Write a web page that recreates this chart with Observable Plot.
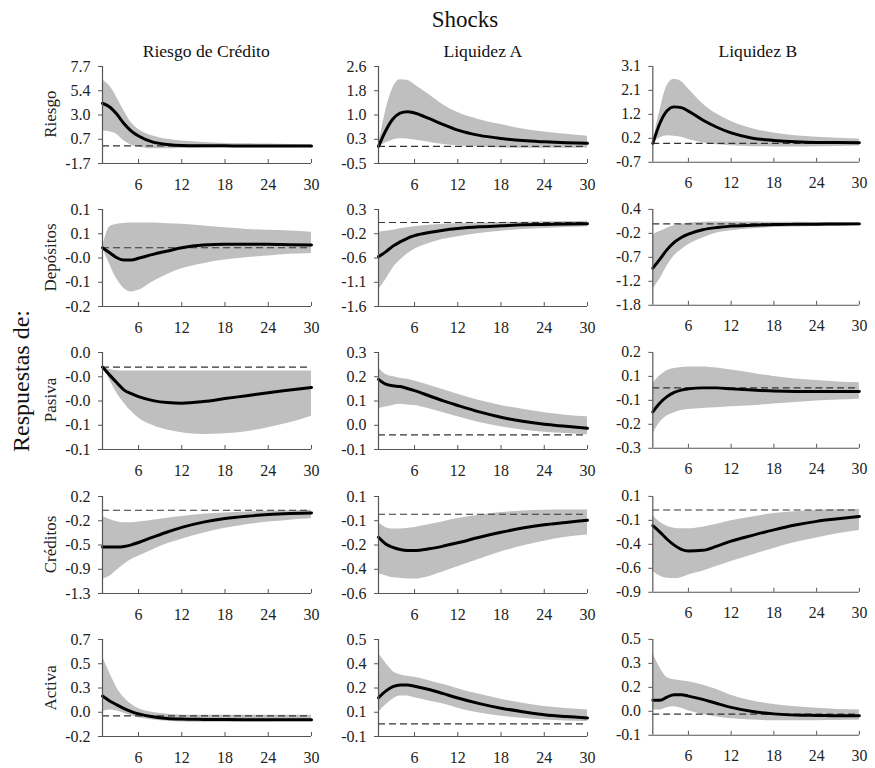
<!DOCTYPE html>
<html>
<head>
<meta charset="utf-8">
<script src="https://cdn.jsdelivr.net/npm/d3@7"></script>
<script src="https://cdn.jsdelivr.net/npm/@observablehq/plot@0.6"></script>
<style>
  body { margin: 0; background: white; }
  #root { position: relative; width: 875px; height: 768px; background: white; font-family: 'Liberation Serif', 'Times New Roman', serif; }
  .panel { position: absolute; }
  .panel svg { overflow: visible; font-family: 'Liberation Serif', 'Times New Roman', serif !important; }
  .panel svg text { font-family: 'Liberation Serif', 'Times New Roman', serif !important; font-size: 16px !important; }
  #overlay { position: absolute; left: 0; top: 0; }
</style>
</head>
<body>
<div id="root"></div>
<script>
// ---------- DATA ----------
const periods = [1, 2, 3, 4, 5, 6, 8, 10, 12, 15, 18, 21, 24, 27, 30];
const xTicks = [6, 12, 18, 24, 30];
const shocks = ["Riesgo de Crédito", "Liquidez A", "Liquidez B"];
const responses = ["Riesgo", "Depósitos", "Pasiva", "Créditos", "Activa"];

// Riesgo
const riesgo_RC_mid = [4.14, 3.78, 3.07, 2.15, 1.44, 0.96, 0.37, 0.15, 0.05, 0.02, 0.01, 0.0, 0.0, 0.0, 0.0];
const riesgo_RC_up  = [6.4, 5.8, 4.68, 3.39, 2.25, 1.6, 0.96, 0.64, 0.47, 0.34, 0.25, 0.21, 0.18, 0.14, 0.11];
const riesgo_RC_lo  = [1.44, 1.37, 1.12, 0.47, 0.08, -0.11, -0.28, -0.28, -0.24, -0.2, -0.17, -0.16, -0.15, -0.14, -0.14];
const riesgo_RC_dom = [-1.7, 7.7];
const riesgo_RC_ticks = ["-1.7", "0.7", "3.0", "5.4", "7.7"];

const riesgo_LA_mid = [0, 0.51, 0.89, 1.08, 1.13, 1.09, 0.91, 0.71, 0.53, 0.36, 0.26, 0.19, 0.15, 0.12, 0.10];
const riesgo_LA_up  = [0, 1.15, 1.9, 2.17, 2.15, 2.01, 1.69, 1.35, 1.10, 0.87, 0.71, 0.57, 0.47, 0.40, 0.33];
const riesgo_LA_lo  = [0, 0.11, 0.21, 0.25, 0.24, 0.21, 0.14, 0.06, 0.02, -0.02, -0.05, -0.06, -0.06, -0.06, -0.05];
const riesgo_LA_dom = [-0.555, 2.6];
const riesgo_LA_ticks = ["-0.5", "0.3", "1.0", "1.8", "2.6"];

const riesgo_LB_mid = [0, 0.81, 1.31, 1.47, 1.44, 1.30, 0.94, 0.65, 0.42, 0.21, 0.12, 0.065, 0.04, 0.035, 0.03];
const riesgo_LB_up  = [0, 1.33, 2.32, 2.58, 2.49, 2.19, 1.6, 1.18, 0.88, 0.59, 0.42, 0.31, 0.25, 0.21, 0.18];
const riesgo_LB_lo  = [0, 0.22, 0.31, 0.29, 0.25, 0.16, 0.03, -0.05, -0.09, -0.13, -0.14, -0.14, -0.13, -0.12, -0.10];
const riesgo_LB_dom = [-0.76, 3.1];
const riesgo_LB_ticks = ["-0.7", "0.2", "1.2", "2.1", "3.1"];

// Depósitos
const depositos_RC_mid = [0, -0.0186, -0.037, -0.0457, -0.0457, -0.039, -0.0245, -0.0122, 0, 0.01, 0.0126, 0.0126, 0.0126, 0.011, 0.01];
const depositos_RC_up  = [0, 0.077, 0.087, 0.0905, 0.0915, 0.0917, 0.0917, 0.089, 0.087, 0.0805, 0.074, 0.068, 0.0646, 0.062, 0.058];
const depositos_RC_lo  = [0, -0.0617, -0.117, -0.151, -0.164, -0.158, -0.126, -0.099, -0.078, -0.059, -0.0457, -0.037, -0.031, -0.0245, -0.021];
const depositos_RC_dom = [-0.218, 0.142];
const depositos_RC_ticks = ["-0.2", "-0.1", "-0.0", "0.1", "0.1"];

const depositos_LA_mid = [-0.65, -0.56, -0.45, -0.37, -0.30, -0.25, -0.19, -0.146, -0.114, -0.082, -0.063, -0.044, -0.038, -0.03, -0.025];
const depositos_LA_up  = [-0.18, -0.165, -0.146, -0.12, -0.10, -0.082, -0.05, -0.033, -0.019, -0.008, 0, 0.007, 0.013, 0.019, 0.025];
const depositos_LA_lo  = [-1.28, -1.09, -0.87, -0.72, -0.60, -0.51, -0.40, -0.32, -0.27, -0.21, -0.165, -0.133, -0.114, -0.097, -0.082];
const depositos_LA_dom = [-1.6, 0.248];
const depositos_LA_ticks = ["-1.6", "-1.1", "-0.6", "-0.2", "0.3"];

const depositos_LB_mid = [-0.98, -0.78, -0.57, -0.41, -0.30, -0.225, -0.13, -0.08, -0.05, -0.03, -0.015, -0.01, -0.007, -0.003, 0];
const depositos_LB_up  = [-0.24, -0.17, -0.094, -0.044, -0.01, 0.015, 0.036, 0.042, 0.044, 0.04, 0.036, 0.034, 0.032, 0.031, 0.03];
const depositos_LB_lo  = [-1.44, -1.22, -0.93, -0.71, -0.57, -0.46, -0.31, -0.2, -0.15, -0.11, -0.08, -0.068, -0.058, -0.05, -0.044];
const depositos_LB_dom = [-1.8, 0.32];
const depositos_LB_ticks = ["-1.8", "-1.2", "-0.7", "-0.2", "0.4"];

// Pasiva
const pasiva_RC_mid = [0, -0.010, -0.0195, -0.0285, -0.033, -0.0366, -0.0415, -0.044, -0.0447, -0.0427, -0.039, -0.0354, -0.0317, -0.0285, -0.0252];
const pasiva_RC_up  = [0, -0.003, -0.0045, -0.005, -0.005, -0.005, -0.005, -0.005, -0.005, -0.005, -0.005, -0.005, -0.005, -0.005, -0.005];
const pasiva_RC_lo  = [0, -0.016, -0.0325, -0.0447, -0.055, -0.063, -0.0724, -0.078, -0.0813, -0.0834, -0.0826, -0.080, -0.075, -0.069, -0.061];
const pasiva_RC_dom = [-0.102, 0.018];
const pasiva_RC_ticks = ["-0.1", "-0.1", "-0.0", "-0.0", "0.0"];

const pasiva_LA_mid = [0.206, 0.188, 0.182, 0.179, 0.172, 0.164, 0.145, 0.126, 0.109, 0.085, 0.065, 0.05, 0.039, 0.0315, 0.024];
const pasiva_LA_up  = [0.248, 0.224, 0.216, 0.21, 0.206, 0.2, 0.184, 0.167, 0.151, 0.127, 0.109, 0.095, 0.082, 0.073, 0.067];
const pasiva_LA_lo  = [0.097, 0.103, 0.109, 0.113, 0.111, 0.109, 0.097, 0.082, 0.067, 0.046, 0.030, 0.018, 0.0097, 0.005, 0.0];
const pasiva_LA_dom = [-0.0545, 0.3055];
const pasiva_LA_ticks = ["-0.1", "0.0", "0.1", "0.2", "0.3"];

const pasiva_LB_mid = [-0.12, -0.076, -0.044, -0.023, -0.011, -0.005, 0, 0, -0.005, -0.011, -0.016, -0.018, -0.018, -0.018, -0.018];
const pasiva_LB_up  = [0.021, 0.061, 0.086, 0.097, 0.102, 0.105, 0.105, 0.099, 0.089, 0.073, 0.057, 0.045, 0.037, 0.029, 0.026];
const pasiva_LB_lo  = [-0.23, -0.173, -0.141, -0.124, -0.113, -0.108, -0.103, -0.10, -0.095, -0.089, -0.081, -0.073, -0.066, -0.061, -0.057];
const pasiva_LB_dom = [-0.3024, 0.1776];
const pasiva_LB_ticks = ["-0.3", "-0.2", "-0.1", "0.1", "0.2"];

// Créditos
const creditos_RC_mid = [-0.575, -0.575, -0.575, -0.565, -0.54, -0.503, -0.42, -0.339, -0.267, -0.185, -0.128, -0.092, -0.067, -0.051, -0.041];
const creditos_RC_up  = [-0.103, -0.144, -0.18, -0.195, -0.195, -0.185, -0.154, -0.123, -0.098, -0.062, -0.041, -0.026, -0.015, -0.007, 0];
const creditos_RC_lo  = [-1.08, -1.03, -0.935, -0.847, -0.77, -0.719, -0.616, -0.524, -0.452, -0.36, -0.282, -0.226, -0.185, -0.154, -0.134];
const creditos_RC_dom = [-1.3, 0.215];
const creditos_RC_ticks = ["-1.3", "-0.9", "-0.5", "-0.2", "0.2"];

const creditos_LA_mid = [-0.168, -0.217, -0.243, -0.258, -0.265, -0.265, -0.253, -0.233, -0.209, -0.168, -0.132, -0.101, -0.077, -0.06, -0.043];
const creditos_LA_up  = [-0.06, -0.096, -0.108, -0.108, -0.104, -0.096, -0.077, -0.055, -0.031, -0.007, 0.012, 0.024, 0.029, 0.031, 0.031];
const creditos_LA_lo  = [-0.433, -0.45, -0.465, -0.469, -0.474, -0.474, -0.457, -0.421, -0.385, -0.33, -0.277, -0.233, -0.197, -0.168, -0.152];
const creditos_LA_dom = [-0.58, 0.13];
const creditos_LA_ticks = ["-0.6", "-0.4", "-0.2", "-0.1", "0.1"];

const creditos_LB_mid = [-0.171, -0.242, -0.32, -0.384, -0.43, -0.448, -0.441, -0.395, -0.341, -0.277, -0.217, -0.164, -0.124, -0.096, -0.071];
const creditos_LB_up  = [-0.064, -0.135, -0.178, -0.199, -0.206, -0.206, -0.188, -0.156, -0.117, -0.075, -0.039, -0.018, -0.004, 0.003, 0.007];
const creditos_LB_lo  = [-0.669, -0.722, -0.747, -0.75, -0.74, -0.711, -0.669, -0.615, -0.562, -0.491, -0.42, -0.356, -0.306, -0.26, -0.224];
const creditos_LB_dom = [-0.9, 0.149];
const creditos_LB_ticks = ["-0.9", "-0.6", "-0.4", "-0.1", "0.1"];

// Activa
const activa_RC_mid = [0.181, 0.136, 0.1, 0.066, 0.039, 0.018, -0.009, -0.024, -0.03, -0.033, -0.035, -0.036, -0.036, -0.036, -0.036];
const activa_RC_up  = [0.543, 0.392, 0.256, 0.166, 0.106, 0.066, 0.03, 0.015, 0.006, 0.004, 0.004, 0.005, 0.005, 0.005, 0.005];
const activa_RC_lo  = [0.036, 0.054, 0.045, 0.024, 0, -0.018, -0.039, -0.051, -0.057, -0.06, -0.06, -0.058, -0.056, -0.055, -0.054];
const activa_RC_dom = [-0.19, 0.7];
const activa_RC_ticks = ["-0.2", "0.0", "0.3", "0.5", "0.7"];

const activa_LA_mid = [0.155, 0.194, 0.22, 0.231, 0.231, 0.223, 0.204, 0.179, 0.153, 0.12, 0.093, 0.072, 0.054, 0.043, 0.035];
const activa_LA_up  = [0.418, 0.36, 0.311, 0.291, 0.282, 0.276, 0.256, 0.233, 0.208, 0.175, 0.146, 0.122, 0.103, 0.091, 0.082];
const activa_LA_lo  = [0.068, 0.111, 0.146, 0.165, 0.165, 0.155, 0.136, 0.117, 0.093, 0.064, 0.045, 0.033, 0.023, 0.017, 0.014];
const activa_LA_dom = [-0.075, 0.5];
const activa_LA_ticks = ["-0.1", "0.1", "0.2", "0.4", "0.5"];

const activa_LB_mid = [0.09, 0.09, 0.111, 0.126, 0.126, 0.117, 0.096, 0.069, 0.044, 0.017, 0.002, -0.006, -0.008, -0.01, -0.01];
const activa_LB_up  = [0.394, 0.30, 0.237, 0.222, 0.216, 0.21, 0.189, 0.159, 0.122, 0.086, 0.063, 0.048, 0.038, 0.031, 0.027];
const activa_LB_lo  = [0.027, 0.027, 0.042, 0.048, 0.038, 0.023, 0, -0.019, -0.029, -0.038, -0.042, -0.042, -0.042, -0.041, -0.04];
const activa_LB_dom = [-0.1364, 0.4836];
const activa_LB_ticks = ["-0.1", "0.0", "0.2", "0.3", "0.5"];

// ---------- PANEL TABLE (built from the arrays) ----------
const panels = [
  [[riesgo_RC_mid, riesgo_RC_up, riesgo_RC_lo, riesgo_RC_dom, riesgo_RC_ticks],
   [riesgo_LA_mid, riesgo_LA_up, riesgo_LA_lo, riesgo_LA_dom, riesgo_LA_ticks],
   [riesgo_LB_mid, riesgo_LB_up, riesgo_LB_lo, riesgo_LB_dom, riesgo_LB_ticks]],
  [[depositos_RC_mid, depositos_RC_up, depositos_RC_lo, depositos_RC_dom, depositos_RC_ticks],
   [depositos_LA_mid, depositos_LA_up, depositos_LA_lo, depositos_LA_dom, depositos_LA_ticks],
   [depositos_LB_mid, depositos_LB_up, depositos_LB_lo, depositos_LB_dom, depositos_LB_ticks]],
  [[pasiva_RC_mid, pasiva_RC_up, pasiva_RC_lo, pasiva_RC_dom, pasiva_RC_ticks],
   [pasiva_LA_mid, pasiva_LA_up, pasiva_LA_lo, pasiva_LA_dom, pasiva_LA_ticks],
   [pasiva_LB_mid, pasiva_LB_up, pasiva_LB_lo, pasiva_LB_dom, pasiva_LB_ticks]],
  [[creditos_RC_mid, creditos_RC_up, creditos_RC_lo, creditos_RC_dom, creditos_RC_ticks],
   [creditos_LA_mid, creditos_LA_up, creditos_LA_lo, creditos_LA_dom, creditos_LA_ticks],
   [creditos_LB_mid, creditos_LB_up, creditos_LB_lo, creditos_LB_dom, creditos_LB_ticks]],
  [[activa_RC_mid, activa_RC_up, activa_RC_lo, activa_RC_dom, activa_RC_ticks],
   [activa_LA_mid, activa_LA_up, activa_LA_lo, activa_LA_dom, activa_LA_ticks],
   [activa_LB_mid, activa_LB_up, activa_LB_lo, activa_LB_dom, activa_LB_ticks]]
];

// ---------- LAYOUT ----------
const colX = [101.7, 378.3, 653.3];
const rowY = [65.7, 209, 351.5, 496, 639.3];
const PW = 209, PH = 97;
const ML = 60, MR = 16, MT = 8, MB = 40;
const FONT = "'Liberation Serif', 'Times New Roman', serif";

const root = document.getElementById("root");

// overlay texts
const overlay = d3.create("svg")
  .attr("id", "overlay")
  .attr("width", 875).attr("height", 768)
  .style("font-family", FONT);
overlay.append("text").attr("x", 465).attr("y", 26.5).attr("text-anchor", "middle")
  .style("font-size", "23px").attr("fill", "#111").text("Shocks");
shocks.forEach((s, c) => {
  overlay.append("text").attr("x", colX[c] + PW / 2).attr("y", 57).attr("text-anchor", "middle")
    .style("font-size", "17.6px").attr("fill", "#111").text(s);
});
responses.forEach((s, r) => {
  overlay.append("text")
    .attr("transform", `translate(50,${rowY[r] + PH / 2}) rotate(-90)`)
    .attr("text-anchor", "middle").attr("dominant-baseline", "central")
    .style("font-size", "17px").attr("fill", "#222").text(s);
});
overlay.append("text")
  .attr("transform", `translate(21,381) rotate(-90)`)
  .attr("text-anchor", "middle").attr("dominant-baseline", "central")
  .style("font-size", "24px").attr("fill", "#111").text("Respuestas de:");
root.appendChild(overlay.node());

function makePanel(r, c) {
  const [mid, up, lo, dom, labels] = panels[r][c];
  const [y0, y1] = dom;
  const ticks = labels.map((_, i) => y0 + i * (y1 - y0) / 4);
  const fmt = new Map(ticks.map((t, i) => [t, labels[i]]));
  const data = periods.map((t, i) => ({t, mid: mid[i], up: up[i], lo: lo[i]}));
  const axisColor = "#555";
  return Plot.plot({
    width: ML + PW + MR,
    height: MT + PH + MB,
    marginLeft: ML, marginRight: MR, marginTop: MT, marginBottom: MB,
    style: {fontFamily: FONT, fontSize: "16px", color: "#222", background: "transparent", overflow: "visible"},
    x: {domain: [1, 30]},
    y: {domain: [y0, y1]},
    marks: [
      Plot.areaY(data, {x: "t", y1: "lo", y2: "up", fill: "#bfbfbf", curve: "monotone-x"}),
      Plot.ruleY([0], {stroke: "#333", strokeWidth: 1.2, strokeDasharray: "7,4"}),
      Plot.lineY(data, {x: "t", y: "mid", stroke: "black", strokeWidth: 3, curve: "monotone-x"}),
      Plot.ruleX([1], {stroke: axisColor, strokeWidth: 1.2}),
      Plot.ruleY([y0], {stroke: axisColor, strokeWidth: 1.2}),
      Plot.axisY({ticks, tickFormat: d => fmt.get(d), tickSize: 4, tickPadding: 8, stroke: axisColor, fill: "#222", label: null, fontFamily: FONT, fontSize: 16}),
      Plot.axisX({ticks: xTicks, tickSize: -4, tickPadding: 19, stroke: axisColor, fill: "#222", label: null, fontFamily: FONT, fontSize: 16})
    ]
  });
}

for (let r = 0; r < 5; r++) {
  for (let c = 0; c < 3; c++) {
    const div = document.createElement("div");
    div.className = "panel";
    div.style.left = (colX[c] - ML) + "px";
    div.style.top = (rowY[r] - MT) + "px";
    div.appendChild(makePanel(r, c));
    root.appendChild(div);
  }
}
</script>
</body>
</html>
